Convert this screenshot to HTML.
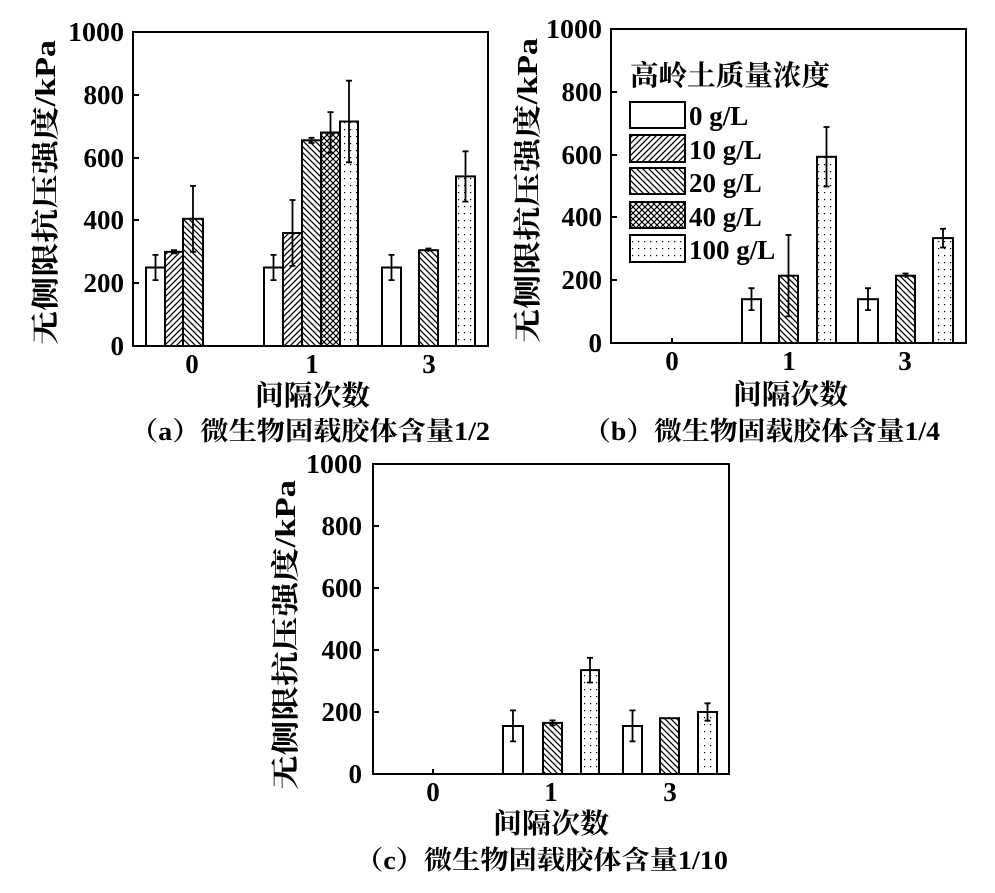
<!DOCTYPE html>
<html><head><meta charset="utf-8"><style>
html,body{margin:0;padding:0;background:#fff;}
svg{display:block;}
text{font-family:"Liberation Serif","Noto Serif CJK SC",serif;font-weight:bold;fill:#000;}
</style></head><body>
<svg width="995" height="893" viewBox="0 0 995 893" xmlns="http://www.w3.org/2000/svg">
<defs>
<pattern id="fw" width="6" height="6" patternUnits="userSpaceOnUse"><rect width="6" height="6" fill="#fff"/><path d="M-1,7 L7,-1 M-1,1 L1,-1 M5,7 L7,5" stroke="#000" stroke-width="1.3"/></pattern>
<pattern id="bw" width="6" height="6" patternUnits="userSpaceOnUse"><rect width="6" height="6" fill="#fff"/><path d="M-1,-1 L7,7 M5,-1 L7,1 M-1,5 L1,7" stroke="#000" stroke-width="1.3"/></pattern>
<pattern id="xh" width="6" height="6" patternUnits="userSpaceOnUse"><rect width="6" height="6" fill="#fff"/><path d="M-1,7 L7,-1 M-1,-1 L7,7" stroke="#000" stroke-width="1.2"/></pattern>
<pattern id="dt" width="6" height="7" patternUnits="userSpaceOnUse"><rect width="6" height="7" fill="#fff"/><rect x="2" y="3" width="1.2" height="1.2" fill="#000"/></pattern>
</defs>
<g stroke="#000" stroke-width="2" fill="none">
<rect x="133" y="32" width="355" height="314"/>
<path d="M133,95h6M133,158h6M133,220h6M133,283h6M192,346v-5M312,346v-5M429,346v-5" />
<rect x="611" y="29" width="355" height="314"/>
<path d="M611,92h6M611,155h6M611,217h6M611,280h6M672,343v-5M789,343v-5M905,343v-5"/>
<rect x="373" y="464" width="356" height="310"/>
<path d="M373,526h6M373,588h6M373,650h6M373,712h6M433,774v-5M551,774v-5M670,774v-5"/>
</g>
<g stroke="#000" stroke-width="2">
<rect x="146" y="267.5" width="19" height="78.5" fill="#fff"/>
<rect x="165" y="251.8" width="18" height="94.2" fill="url(#fw)"/>
<rect x="183" y="218.8" width="20" height="127.2" fill="url(#bw)"/>
<rect x="264" y="267.5" width="19" height="78.5" fill="#fff"/>
<rect x="283" y="233" width="19" height="113" fill="url(#fw)"/>
<rect x="302" y="140.3" width="19" height="205.7" fill="url(#bw)"/>
<rect x="321" y="132.5" width="19" height="213.5" fill="url(#xh)"/>
<rect x="340" y="121.5" width="18" height="224.5" fill="url(#dt)"/>
<rect x="382" y="267.5" width="19" height="78.5" fill="#fff"/>
<rect x="419" y="250.2" width="19" height="95.8" fill="url(#bw)"/>
<rect x="456" y="176.4" width="19" height="169.6" fill="url(#dt)"/>
<rect x="742" y="299.2" width="19" height="43.8" fill="#fff"/>
<rect x="779" y="275.7" width="19" height="67.3" fill="url(#bw)"/>
<rect x="817" y="156.8" width="19" height="186.2" fill="url(#dt)"/>
<rect x="858" y="299.2" width="20" height="43.8" fill="#fff"/>
<rect x="896" y="275.7" width="19" height="67.3" fill="url(#bw)"/>
<rect x="933" y="238.1" width="20" height="104.9" fill="url(#dt)"/>
<rect x="503" y="726" width="20" height="48" fill="#fff"/>
<rect x="543" y="722.9" width="19" height="51.1" fill="url(#bw)"/>
<rect x="581" y="670.1" width="18" height="103.9" fill="url(#dt)"/>
<rect x="623" y="726" width="19" height="48" fill="#fff"/>
<rect x="660" y="718.2" width="19" height="55.8" fill="url(#bw)"/>
<rect x="698" y="712" width="19" height="62" fill="url(#dt)"/>
<rect x="630" y="102" width="55" height="26" fill="#fff"/>
<rect x="630" y="135" width="55" height="27" fill="url(#fw)"/>
<rect x="630" y="168" width="55" height="26" fill="url(#bw)"/>
<rect x="630" y="202" width="55" height="26" fill="url(#xh)"/>
<rect x="630" y="235" width="55" height="27" fill="url(#dt)"/>
</g>
<g stroke="#000" stroke-width="1.8" fill="none">
<path d="M155.5,254.9V280.1M152.5,254.9h6M152.5,280.1h6"/>
<path d="M174,250.2V253.4M171,250.2h6M171,253.4h6"/>
<path d="M193,185.9V251.8M190,185.9h6M190,251.8h6"/>
<path d="M273.5,254.9V280.1M270.5,254.9h6M270.5,280.1h6"/>
<path d="M292.5,200V265.9M289.5,200h6M289.5,265.9h6"/>
<path d="M311.5,137.8V142.8M308.5,137.8h6M308.5,142.8h6"/>
<path d="M330.5,112.1V152.9M327.5,112.1h6M327.5,152.9h6"/>
<path d="M349,80.7V162.3M346,80.7h6M346,162.3h6"/>
<path d="M391.5,254.9V280.1M388.5,254.9h6M388.5,280.1h6"/>
<path d="M428.5,248.5V252M425.5,248.5h6"/>
<path d="M465.5,151.3V201.6M462.5,151.3h6M462.5,201.6h6"/>
<path d="M751.5,288.2V310.1M748.5,288.2h6M748.5,310.1h6"/>
<path d="M788.5,235V316.4M785.5,235h6M785.5,316.4h6"/>
<path d="M826.5,127V186.5M823.5,127h6M823.5,186.5h6"/>
<path d="M868,288.2V310.1M865,288.2h6M865,310.1h6"/>
<path d="M905.5,273.5V277.9M902.5,273.5h6"/>
<path d="M943,228.8V247.5M940,228.8h6M940,247.5h6"/>
<path d="M513,710.4V741.4M510,710.4h6M510,741.4h6"/>
<path d="M552.5,720.4V725.3M549.5,720.4h6M549.5,725.3h6"/>
<path d="M590,657.8V682.5M587,657.8h6M587,682.5h6"/>
<path d="M632.5,710.4V741.4M629.5,710.4h6M629.5,741.4h6"/>
<path d="M707.5,703.3V720.7M704.5,703.3h6M704.5,720.7h6"/>
</g>
<g font-size="27" text-anchor="end">
<text x="124" y="41" textLength="56" lengthAdjust="spacingAndGlyphs">1000</text><text x="124" y="104">800</text><text x="124" y="167">600</text><text x="124" y="229">400</text><text x="124" y="292">200</text><text x="124" y="355">0</text>
<text x="602" y="38" textLength="56" lengthAdjust="spacingAndGlyphs">1000</text><text x="602" y="101">800</text><text x="602" y="164">600</text><text x="602" y="226">400</text><text x="602" y="289">200</text><text x="602" y="352">0</text>
<text x="362" y="473" textLength="56" lengthAdjust="spacingAndGlyphs">1000</text><text x="362" y="535">800</text><text x="362" y="597">600</text><text x="362" y="659">400</text><text x="362" y="721">200</text><text x="362" y="783">0</text>
</g>
<g font-size="27" text-anchor="middle">
<text x="192" y="373">0</text><text x="312" y="373">1</text><text x="429" y="373">3</text>
<text x="672" y="370">0</text><text x="789" y="370">1</text><text x="905" y="370">3</text>
<text x="433" y="801">0</text><text x="551" y="801">1</text><text x="670" y="801">3</text>
</g>
<g font-size="28">
<text x="255" y="405" textLength="115" lengthAdjust="spacingAndGlyphs">间隔次数</text>
<text x="733" y="404" textLength="115" lengthAdjust="spacingAndGlyphs">间隔次数</text>
<text x="493" y="833" textLength="116" lengthAdjust="spacingAndGlyphs">间隔次数</text>
<text x="130" y="440" font-size="26" textLength="360" lengthAdjust="spacingAndGlyphs">（a）微生物固载胶体含量1/2</text>
<text x="583" y="440" font-size="26" textLength="357" lengthAdjust="spacingAndGlyphs">（b）微生物固载胶体含量1/4</text>
<text x="355" y="869" font-size="26" textLength="373" lengthAdjust="spacingAndGlyphs">（c）微生物固载胶体含量1/10</text>
<text transform="translate(55,345) rotate(-90)" textLength="305" lengthAdjust="spacingAndGlyphs">无侧限抗压强度/kPa</text>
<text transform="translate(537,343) rotate(-90)" textLength="305" lengthAdjust="spacingAndGlyphs">无侧限抗压强度/kPa</text>
<text transform="translate(295,790) rotate(-90)" textLength="310" lengthAdjust="spacingAndGlyphs">无侧限抗压强度/kPa</text>
<text x="630" y="85" textLength="200" lengthAdjust="spacingAndGlyphs">高岭土质量浓度</text>
</g>
<g font-size="27">
<text x="689" y="125">0 g/L</text>
<text x="689" y="159">10 g/L</text>
<text x="689" y="192">20 g/L</text>
<text x="689" y="226">40 g/L</text>
<text x="689" y="259">100 g/L</text>
</g>
</svg>
</body></html>
